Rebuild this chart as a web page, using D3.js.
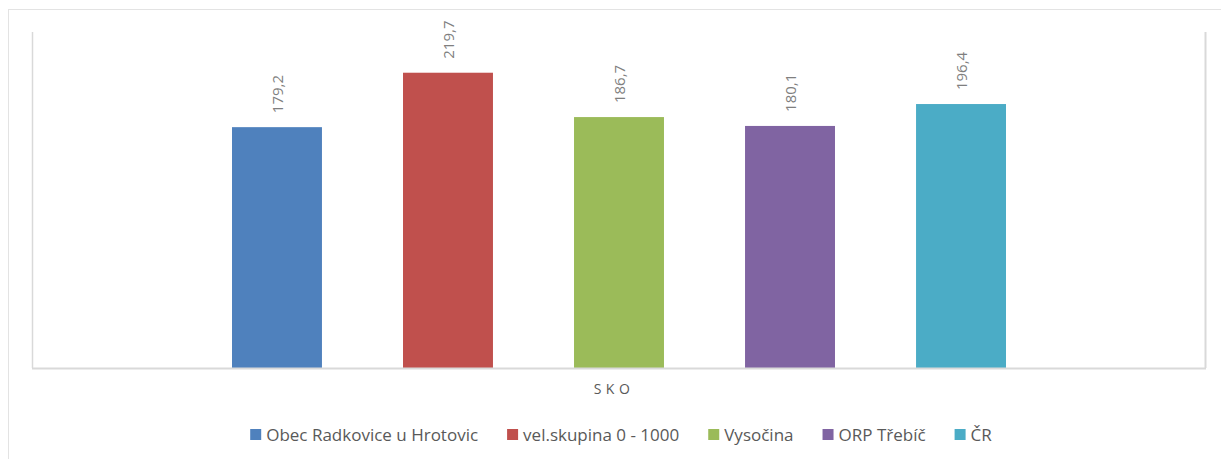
<!DOCTYPE html>
<html>
<head>
<meta charset="utf-8">
<script src="https://cdn.jsdelivr.net/npm/d3@7"></script>
<style>
  body { margin: 0; background: #fff; }
  svg { display: block; font-family: "Open Sans", sans-serif; }
</style>
</head>
<body>
<script>
var categories = ["SKO"];
var series = ["Obec Radkovice u Hrotovic", "vel.skupina 0 - 1000", "Vysočina", "ORP Třebíč", "ČR"];
var values = [179.2, 219.7, 186.7, 180.1, 196.4];
var labels = ["179,2", "219,7", "186,7", "180,1", "196,4"];
var colors = ["#4F81BD", "#C0504D", "#9BBB59", "#8064A2", "#4BACC6"];

var width = 1221, height = 459;
var margin = {top: 32, right: 15, bottom: 91, left: 32};
var plotW = width - margin.left - margin.right,
    plotH = height - margin.top - margin.bottom;

var svg = d3.select("body").append("svg")
    .attr("width", width)
    .attr("height", height);

// outer chart border (only top and left visible)
svg.append("line").attr("x1", 8).attr("x2", width).attr("y1", 9.5).attr("y2", 9.5)
    .attr("stroke", "#e3e3e3").attr("stroke-width", 1);
svg.append("line").attr("x1", 8.5).attr("x2", 8.5).attr("y1", 9).attr("y2", height)
    .attr("stroke", "#e3e3e3").attr("stroke-width", 1);

var g = svg.append("g")
    .attr("transform", "translate(" + margin.left + "," + margin.top + ")");

var x0 = d3.scaleBand()
    .domain(categories)
    .range([0, plotW])
    .paddingInner(0)
    .paddingOuter(0.1865);

var x1 = d3.scaleBand()
    .domain(series)
    .range([0, x0.bandwidth()])
    .paddingInner(0.474)
    .paddingOuter(0.237);

var y = d3.scaleLinear()
    .domain([0, 250])
    .range([plotH, 0]);

// plot area frame: left, right
g.append("line").attr("x1", 0.5).attr("x2", 0.5).attr("y1", 0).attr("y2", plotH)
    .attr("stroke", "#d9d9d9").attr("stroke-width", 1.5);
g.append("line").attr("x1", plotW - 0.5).attr("x2", plotW - 0.5).attr("y1", 0).attr("y2", plotH)
    .attr("stroke", "#d9d9d9").attr("stroke-width", 2);

g.selectAll(".bar")
    .data(series)
    .enter().append("rect")
    .attr("class", "bar")
    .attr("x", function(d) { return x0("SKO") + x1(d); })
    .attr("width", x1.bandwidth())
    .attr("y", function(d, i) { return y(values[i]); })
    .attr("height", function(d, i) { return plotH - y(values[i]); })
    .attr("fill", function(d, i) { return colors[i]; });

g.selectAll(".lbl")
    .data(series)
    .enter().append("text")
    .attr("class", "lbl")
    .attr("transform", function(d, i) {
        var cx = x0("SKO") + x1(d) + x1.bandwidth() / 2;
        return "translate(" + (cx + 6) + "," + (y(values[i]) - 14) + ") rotate(-90)";
    })
    .attr("text-anchor", "start")
    .attr("fill", "#7f7f7f")
    .style("font-size", "15px")
    .text(function(d, i) { return labels[i]; });

// bottom axis line
g.append("line").attr("x1", 0).attr("x2", plotW).attr("y1", plotH + 0.5).attr("y2", plotH + 0.5)
    .attr("stroke", "#d9d9d9").attr("stroke-width", 2);

// category label
g.append("text")
    .attr("x", x0("SKO") + x0.bandwidth() / 2 - 5)
    .attr("y", plotH + 26)
    .attr("text-anchor", "middle")
    .attr("fill", "#595959")
    .style("font-size", "14px")
    .style("letter-spacing", "4.5px")
    .text(categories[0]);

// legend
var legend = svg.append("g").attr("transform", "translate(0,441)");
var items = legend.selectAll(".item")
    .data(series)
    .enter().append("g")
    .attr("class", "item");

items.append("rect")
    .attr("width", 11).attr("height", 11)
    .attr("y", -12)
    .attr("fill", function(d, i) { return colors[i]; });

items.append("text")
    .attr("x", 16)
    .attr("y", 0)
    .attr("fill", "#595959")
    .style("font-size", "17px")
    .text(function(d) { return d; });

var widths = [];
items.each(function() {
    widths.push(16 + d3.select(this).select("text").node().getComputedTextLength());
});
var gap = 29;
var total = d3.sum(widths) + gap * (widths.length - 1);
var start = 621 - total / 2;
items.attr("transform", function(d, i) {
    var off = start + d3.sum(widths.slice(0, i)) + gap * i;
    return "translate(" + off + ",0)";
});
</script>
</body>
</html>
